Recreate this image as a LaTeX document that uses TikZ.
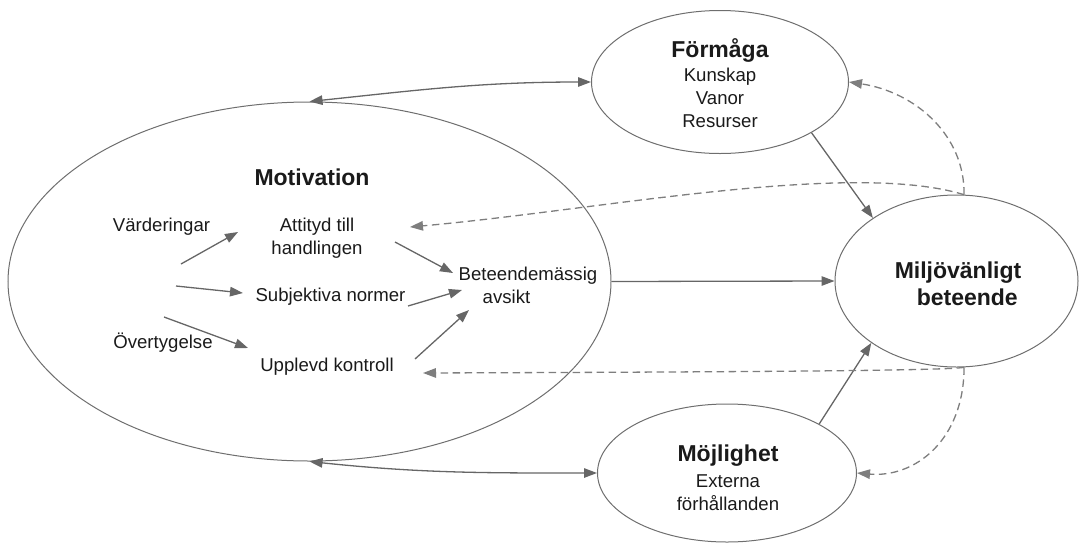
\documentclass[tikz,border=0pt]{standalone}
\usepackage{fontspec}
\setmainfont{Liberation Sans}
\usetikzlibrary{shapes.geometric,arrows.meta}
\definecolor{linegray}{HTML}{6E6E6E}
\definecolor{arrgray}{HTML}{666666}
\definecolor{dashgray}{HTML}{7E7E7E}
\definecolor{textc}{HTML}{1A1A1A}
\tikzset{
  tip/.tip={Triangle[length=13pt,width=9.5pt]},
  ell/.style={draw=linegray, line width=1pt, ellipse, inner sep=0pt},
  arr/.style={draw=arrgray, line width=1.3pt, -tip},
  dbl/.style={draw=arrgray, line width=1.3pt, tip-tip},
  darr/.style={arr, draw=dashgray, dash pattern=on 7.5pt off 4.5pt},
  txt/.style={font=\fontsize{18.6}{23}\selectfont, text=textc, align=center, inner sep=0pt},
  ttl/.style={font=\bfseries\fontsize{23}{27}\selectfont, text=textc, align=center, inner sep=0pt}
}
\begin{document}
\begin{tikzpicture}[x=1pt,y=1pt]
\useasboundingbox (0,0) rectangle (1084,-544);
% ellipses
\node[ell, minimum width=603pt, minimum height=359pt] (mot) at (309.5,-281.5) {};
\node[ell, minimum width=257pt, minimum height=143pt] (form) at (720,-82) {};
\node[ell, minimum width=243pt, minimum height=172pt] (milj) at (956.5,-281) {};
\node[ell, minimum width=259pt, minimum height=138pt] (moj) at (727,-473) {};
% titles and texts
\node[ttl] (formT) at (720,-50) {Förmåga};
\node[txt] (formL) at (720,-98) {Kunskap\\Vanor\\Resurser};
\node[ttl] (motT) at (312,-177) {Motivation};
\node[ttl, align=left] (miljT) at (958,-283.5) {Miljövänligt\\\hspace*{22pt}beteende};
\node[ttl] (mojT) at (728,-456) {Möjlighet};
\node[txt] (mojL) at (728,-492.5) {Externa\\förhållanden};
\node[txt] (val) at (161.5,-227) {Värderingar};
\node[txt] (att) at (317,-238.5) {Attityd till\\handlingen};
\node[txt] (sub) at (330.5,-297) {Subjektiva normer};
\node[txt] (ove) at (163,-343) {Övertygelse};
\node[txt] (upp) at (327,-367) {Upplevd kontroll};
\node[txt, align=left] (bet) at (528,-285.5) {Beteendemässig\\\hspace*{24pt}avsikt};
% arrow end points
\coordinate (v1s) at (181,-264); \coordinate (v1e) at (238,-232);
\coordinate (v2s) at (176,-286); \coordinate (v2e) at (243,-293);
\coordinate (v3s) at (164,-317); \coordinate (v3e) at (248,-348);
\coordinate (a1s) at (395,-242); \coordinate (a1e) at (453,-273);
\coordinate (a2s) at (408,-306); \coordinate (a2e) at (462,-290);
\coordinate (a3s) at (415,-359); \coordinate (a3e) at (469,-310);
\coordinate (attin) at (410,-227);
\coordinate (uppin) at (423,-373);
% inner arrows
\draw[arr] (v1s) -- (v1e);
\draw[arr] (v2s) -- (v2e);
\draw[arr] (v3s) -- (v3e);
\draw[arr] (a1s) -- (a1e);
\draw[arr] (a2s) -- (a2e);
\draw[arr] (a3s) -- (a3e);
% main arrows
\draw[arr] (mot.east) -- (milj.west);
\draw[arr] (form.-29) -- (milj.143);
\draw[arr] (moj.28) -- (milj.216);
\draw[dbl] (mot.north) to[out=6,in=180] (form.west);
\draw[dbl] (mot.south) to[out=-6,in=180] (moj.west);
% dashed feedback
\draw[darr] (milj.85) .. controls (965,-135) and (915,-92) .. (form.east);
\draw[darr] (milj.85) .. controls (850,-160) and (600,-210) .. (attin);
\draw[darr] (milj.-85) .. controls (945,-371) and (700,-372) .. (uppin);
\draw[darr] (milj.-85) .. controls (964,-440) and (915,-478) .. (moj.east);
\end{tikzpicture}
\end{document}
